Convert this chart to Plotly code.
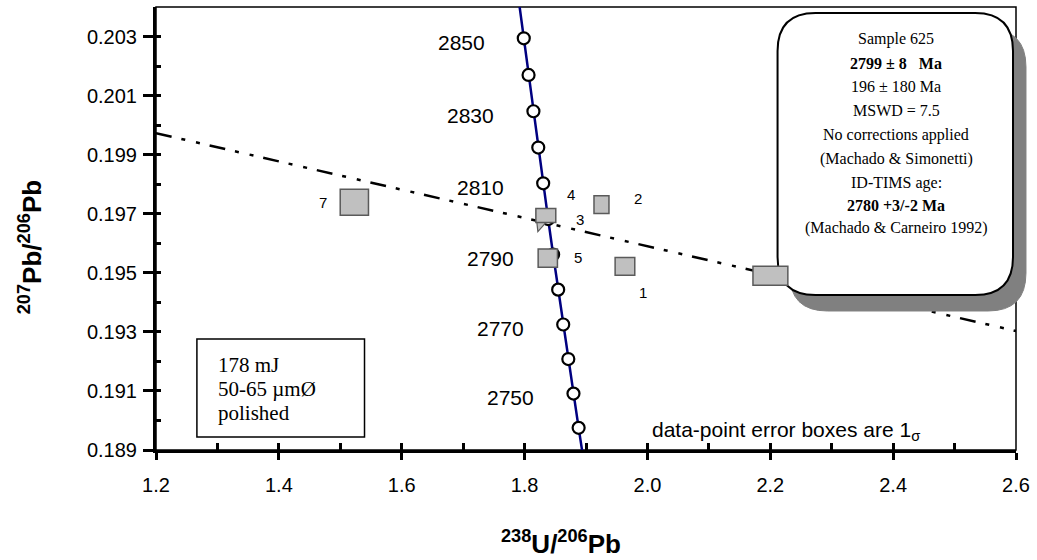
import plotly.graph_objects as go

# ---------------- data ----------------
# Concordia curve (ages in Ma) and its coordinates
conc_age = [2860, 2850, 2840, 2830, 2820, 2810, 2800, 2790, 2780, 2770, 2760, 2750, 2740, 2730]
conc_x = [1.7908, 1.7987, 1.8065, 1.8144, 1.8223, 1.8303, 1.8384, 1.8465, 1.8547, 1.8629,
          1.8712, 1.8796, 1.8880, 1.8965]
conc_y = [0.20418, 0.20294, 0.20170, 0.20047, 0.19924, 0.19803, 0.19682, 0.19562, 0.19443,
          0.19325, 0.19208, 0.19091, 0.18975, 0.18860]
marker_ages = [2850, 2840, 2830, 2820, 2810, 2800, 2790, 2780, 2770, 2760, 2750, 2740]
label_ages = [2850, 2830, 2810, 2790, 2770, 2750]

# Discordia (regression) line end points
disc_x = [1.2, 2.6]
disc_y = [0.19973, 0.19303]

# Data points: centre and 1-sigma half widths
pt_label = ["1", "2", "4", "3", "5", "6", "7"]
pt_x = [1.9634, 1.9252, 1.8340, 1.8346, 1.8378, 2.2002, 1.5229]
pt_y = [0.19522, 0.19731, 0.19695, 0.19694, 0.19550, 0.19490, 0.19739]
pt_ex = [0.0160, 0.0122, 0.0120, 0.0162, 0.0157, 0.0284, 0.0230]
pt_ey = [0.00030, 0.00030, 0.00018, 0.00024, 0.00031, 0.00032, 0.00044]

x_range = [1.2, 2.6]
y_range = [0.189, 0.204]

info_lines = ["Sample 625", "<b>2799 ± 8\u00a0\u00a0\u00a0Ma</b>", "196 ± 180 Ma", "MSWD = 7.5",
              "No corrections applied", "(Machado & Simonetti)", "ID-TIMS age:",
              "<b>2780 +3/-2 Ma</b>", "(Machado & Carneiro 1992)"]
cond_lines = ["178 mJ", "50-65 µmØ", "polished"]

# ---------------- layout geometry (pixels) ----------------
W, H = 1037, 560
L, R, T, B = 156, 1018, 7, 450


def px2paper(px, py):
    return (px - L) / (R - L), (B - py) / (B - T)


def rounded_path(x0, y0, x1, y1, r):
    def P(px, py):
        a, b = px2paper(px, py)
        return f"{a:.5f},{b:.5f}"
    return (f"M {P(x0 + r, y0)} L {P(x1 - r, y0)} Q {P(x1, y0)} {P(x1, y0 + r)} "
            f"L {P(x1, y1 - r)} Q {P(x1, y1)} {P(x1 - r, y1)} "
            f"L {P(x0 + r, y1)} Q {P(x0, y1)} {P(x0, y1 - r)} "
            f"L {P(x0, y0 + r)} Q {P(x0, y0)} {P(x0 + r, y0)} Z")


fig = go.Figure()

# discordia
fig.add_trace(go.Scatter(x=disc_x, y=disc_y, mode="lines",
                         line=dict(color="black", width=2.5, dash="16px,10px,4px,11px,4px,10px"),
                         hoverinfo="skip"))
# concordia curve
fig.add_trace(go.Scatter(x=conc_x, y=conc_y, mode="lines",
                         line=dict(color="#000080", width=2.5), hoverinfo="skip"))
mk_x = [conc_x[conc_age.index(a)] for a in marker_ages]
mk_y = [conc_y[conc_age.index(a)] for a in marker_ages]
fig.add_trace(go.Scatter(x=mk_x, y=mk_y, mode="markers",
                         marker=dict(symbol="circle", size=12, color="white",
                                     line=dict(color="black", width=2.2)),
                         cliponaxis=False, hoverinfo="skip"))
# invisible trace for the overlay (minor tick) axes
fig.add_trace(go.Scatter(x=x_range, y=y_range, xaxis="x2", yaxis="y2", mode="markers",
                         marker=dict(opacity=0), hoverinfo="skip"))

shapes = []
# plot frame (thin)
shapes.append(dict(type="rect", xref="paper", yref="paper", x0=0, y0=0, x1=1, y1=1,
                   line=dict(color="black", width=1.5), layer="below"))
# callout shadow + box
shapes.append(dict(type="path", xref="paper", yref="paper",
                   path=rounded_path(791, 29, 1028, 311, 38),
                   fillcolor="#808080", line=dict(color="#808080", width=1), layer="above"))
shapes.append(dict(type="path", xref="paper", yref="paper",
                   path=rounded_path(779, 13, 1015, 295, 38),
                   fillcolor="white", line=dict(color="black", width=2), layer="above"))
# conditions box
bx0, by0 = px2paper(197, 437)
bx1, by1 = px2paper(365, 339)
shapes.append(dict(type="rect", xref="paper", yref="paper", x0=bx0, y0=by0, x1=bx1, y1=by1,
                   fillcolor="white", line=dict(color="black", width=1.5), layer="above"))
# error boxes
for i in range(len(pt_x)):
    shapes.append(dict(type="rect", xref="x", yref="y",
                       x0=pt_x[i] - pt_ex[i], x1=pt_x[i] + pt_ex[i],
                       y0=pt_y[i] - pt_ey[i], y1=pt_y[i] + pt_ey[i],
                       fillcolor="#C0C0C0", line=dict(color="#5a5a5a", width=1.5), layer="above"))
# small callout pointer under point 3
i3 = pt_label.index("3")
shapes.append(dict(type="path", xref="x", yref="y", xsizemode="pixel", ysizemode="pixel",
                   xanchor=pt_x[i3] - pt_ex[i3], yanchor=pt_y[i3] - pt_ey[i3],
                   path="M 1,0 L 2,-9 L 10,0 Z",
                   fillcolor="#C0C0C0", line=dict(color="#5a5a5a", width=1.2), layer="above"))

annotations = []
# concordia age labels
for a in label_ages:
    k = conc_age.index(a)
    annotations.append(dict(x=conc_x[k], y=conc_y[k], xref="x", yref="y", text=str(a),
                            showarrow=False, xanchor="right", yanchor="middle",
                            xshift=-37, yshift=-4,
                            font=dict(family="Liberation Sans, Arial", size=21, color="black")))
# point labels
lab_off = {"1": (18, -26), "2": (37, 6), "3": (34, -4), "4": (26, 21), "5": (30, 1), "7": (-31, 0)}
for i, lb in enumerate(pt_label):
    if lb not in lab_off:
        continue
    dx, dy = lab_off[lb]
    annotations.append(dict(x=pt_x[i], y=pt_y[i], xref="x", yref="y", text=lb, showarrow=False,
                            xanchor="center", yanchor="middle", xshift=dx, yshift=dy,
                            font=dict(family="Liberation Sans, Arial", size=15, color="black")))
# callout text
info_py = [37.5, 62, 86, 110, 134, 158, 182, 204, 227]
for t, py in zip(info_lines, info_py):
    ax, ay = px2paper(898, py + 1)
    annotations.append(dict(x=ax, y=ay, xref="paper", yref="paper", text=t, showarrow=False,
                            xanchor="center", yanchor="middle",
                            font=dict(family="Liberation Serif, Times New Roman", size=16,
                                      color="black")))
# conditions text
cond_py = [363, 387, 411]
for t, py in zip(cond_lines, cond_py):
    ax, ay = px2paper(216, py + 2)
    annotations.append(dict(x=ax, y=ay, xref="paper", yref="paper", text=t, showarrow=False,
                            xanchor="left", yanchor="middle",
                            font=dict(family="Liberation Serif, Times New Roman", size=21,
                                      color="black")))
# error box note
ax, ay = px2paper(651, 431)
annotations.append(dict(x=ax, y=ay, xref="paper", yref="paper",
                        text="data-point error boxes are 1<sub>σ</sub>", showarrow=False,
                        xanchor="left", yanchor="middle",
                        font=dict(family="Liberation Sans, Arial", size=21, color="black")))
# axis titles
ax, ay = px2paper(562, 542)
annotations.append(dict(x=ax, y=ay, xref="paper", yref="paper",
                        text="<b><sup>238</sup>U/<sup>206</sup>Pb</b>", showarrow=False,
                        xanchor="center", yanchor="middle",
                        font=dict(family="Liberation Sans, Arial", size=26, color="black")))
ax, ay = px2paper(31, 247)
annotations.append(dict(x=ax, y=ay, xref="paper", yref="paper",
                        text="<b><sup>207</sup>Pb/<sup>206</sup>Pb</b>", showarrow=False,
                        textangle=-90, xanchor="center", yanchor="middle",
                        font=dict(family="Liberation Sans, Arial", size=26, color="black")))

tickfont = dict(family="Liberation Sans, Arial", size=20, color="black")
fig.update_layout(
    width=W, height=H,
    margin=dict(l=L, r=W - R, t=T, b=H - B),
    paper_bgcolor="white", plot_bgcolor="white",
    showlegend=False,
    xaxis=dict(range=x_range, tick0=1.2, dtick=0.2, tickformat=".1f",
               ticks="outside", ticklen=7, tickwidth=2.5, tickcolor="black",
               showline=True, linewidth=3, linecolor="black",
               showgrid=False, zeroline=False, tickfont=tickfont, ticklabelstandoff=8),
    xaxis2=dict(range=x_range, overlaying="x", anchor="y", side="bottom",
                tick0=1.2, dtick=0.1, ticks="inside", ticklen=7, tickwidth=2.5,
                tickcolor="black", showticklabels=False, showline=False,
                showgrid=False, zeroline=False),
    yaxis=dict(range=y_range, tick0=0.189, dtick=0.002, tickformat=".3f",
               ticks="outside", ticklen=10, tickwidth=2.5, tickcolor="black",
               showline=True, linewidth=3, linecolor="black",
               showgrid=False, zeroline=False, tickfont=tickfont, ticklabelstandoff=2),
    yaxis2=dict(range=y_range, overlaying="y", anchor="x", side="left",
                tick0=0.189, dtick=0.001, ticks="inside", ticklen=5, tickwidth=2.5,
                tickcolor="black", showticklabels=False, showline=False,
                showgrid=False, zeroline=False),
    shapes=shapes,
    annotations=annotations,
)

fig.write_html("out.html")
